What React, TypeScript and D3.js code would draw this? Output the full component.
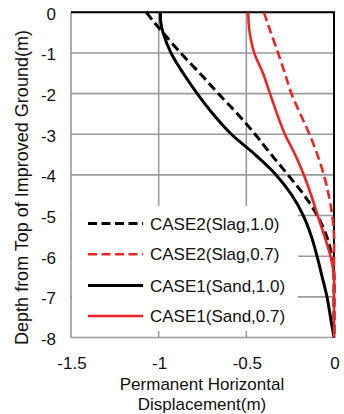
import * as d3 from "d3";
import React from "react";

// depth below top of improved ground (m)
const depths = [0, -0.25, -0.5, -1, -1.5, -2, -2.5, -3, -3.5, -4, -4.5, -5, -5.5, -6, -6.5, -7, -7.5, -8];

// permanent horizontal displacement (m) at each depth
const slag10 = [-1.07, -1.025, -0.975, -0.875, -0.765, -0.66, -0.55, -0.45, -0.358, -0.262, -0.17, -0.095, -0.043, -0.012, 0, 0, 0, 0];
const slag07 = [-0.4, -0.38, -0.36, -0.319, -0.28, -0.243, -0.192, -0.14, -0.095, -0.058, -0.03, -0.01, 0, 0, 0, 0, 0, 0];
const sand10 = [-0.99, -0.988, -0.975, -0.93, -0.86, -0.78, -0.69, -0.585, -0.45, -0.33, -0.24, -0.175, -0.13, -0.097, -0.068, -0.04, -0.02, 0];
const sand07 = [-0.489, -0.487, -0.481, -0.455, -0.405, -0.365, -0.325, -0.28, -0.222, -0.172, -0.13, -0.093, -0.055, -0.02, 0, 0, 0, 0];

const seriesNames = ["CASE2(Slag,1.0)", "CASE2(Slag,0.7)", "CASE1(Sand,1.0)", "CASE1(Sand,0.7)"];
const xTicks = [-1.5, -1, -0.5, 0];
const yTicks = [0, -1, -2, -3, -4, -5, -6, -7, -8];

const RED = "#ee2424";
const FONT = "'Liberation Sans', Arial, sans-serif";

export default function App() {
  const width = 344;
  const height = 414;
  const margin = { top: 12.3, right: 10, bottom: 76.5, left: 71 };

  const x = d3.scaleLinear().domain([-1.5, 0]).range([margin.left, width - margin.right]);
  const y = d3.scaleLinear().domain([0, -8]).range([margin.top, height - margin.bottom]);

  const series = [
    { name: seriesNames[0], vals: slag10, color: "#000", dash: "9,4.5", w: 3 },
    { name: seriesNames[1], vals: slag07, color: RED, dash: "9,4.5", w: 2.6 },
    { name: seriesNames[2], vals: sand10, color: "#000", dash: null, w: 3 },
    { name: seriesNames[3], vals: sand07, color: RED, dash: null, w: 2.6 },
  ];

  const line = d3
    .line<number>()
    .x((d) => x(d))
    .y((d, i) => y(depths[i]))
    .curve(d3.curveCatmullRom.alpha(0.5));

  const x0 = x(-1.5);
  const x1 = x(0);
  const y0 = y(0);
  const y1 = y(-8);

  // legend box
  const lg = { x: x0 + 1, y: 206, w: 226, h: 125 };
  const rowY = [223.5, 254.3, 285.5, 316];

  return (
    <svg
      width={width}
      height={height}
      style={{ position: "absolute", left: 0, top: 0, background: "#fff" }}
      fontFamily={FONT}
    >
      {/* grid */}
      {xTicks.map((t) => (
        <line key={"gx" + t} x1={x(t)} x2={x(t)} y1={y0} y2={y1} stroke="#9a9a9a" strokeWidth={1.6} />
      ))}
      {yTicks.map((t) => (
        <line key={"gy" + t} x1={x0} x2={x1} y1={y(t)} y2={y(t)} stroke="#9a9a9a" strokeWidth={1.6} />
      ))}
      {/* axes cross at zero: top and right */}
      <line x1={x0} x2={x1 + 1} y1={y0} y2={y0} stroke="#000" strokeWidth={2} />
      <line x1={x1} x2={x1} y1={y0} y2={y1} stroke="#000" strokeWidth={2} />

      <rect x={lg.x} y={lg.y} width={lg.w} height={lg.h} fill="#fff" />

      {series.map((s) => (
        <path
          key={s.name}
          d={line(s.vals) || ""}
          fill="none"
          stroke={s.color}
          strokeWidth={s.w}
          strokeDasharray={s.dash || undefined}
        />
      ))}

      {/* legend */}
      {series.map((s, i) => (
        <g key={"lg" + i}>
          <line
            x1={88}
            x2={143}
            y1={rowY[i]}
            y2={rowY[i]}
            stroke={s.color}
            strokeWidth={s.w}
            strokeDasharray={s.dash || undefined}
          />
          <text x={150} y={rowY[i] + 6} fontSize={17} fill="#111">
            {s.name}
          </text>
        </g>
      ))}

      {/* tick labels */}
      {yTicks.map((t) => (
        <text key={"ty" + t} x={56} y={y(t) + 7.5} fontSize={17} textAnchor="end" fill="#111">
          {t}
        </text>
      ))}
      {xTicks.map((t) => (
        <text key={"tx" + t} x={x(t) + 1} y={369} fontSize={17} textAnchor="middle" fill="#111">
          {t}
        </text>
      ))}

      {/* axis titles */}
      <text x={202} y={390} fontSize={17} textAnchor="middle" fill="#111">
        Permanent Horizontal
      </text>
      <text x={202} y={409.5} fontSize={17} textAnchor="middle" fill="#111">
        Displacement(m)
      </text>
      <text
        transform="translate(28,187.5) rotate(-90)"
        fontSize={18}
        textAnchor="middle"
        fill="#111"
      >
        Depth from Top of Improved Ground(m)
      </text>
    </svg>
  );
}
